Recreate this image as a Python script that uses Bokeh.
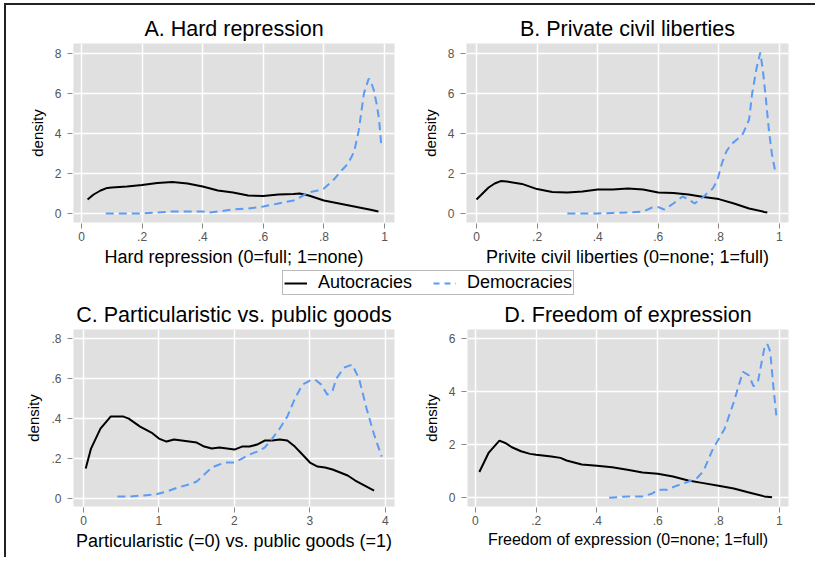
from bokeh.plotting import figure
from bokeh.models import Range1d, FixedTicker, Legend, LegendItem, Spacer
from bokeh.layouts import column, row
from bokeh.embed import file_html
from bokeh.resources import INLINE

FONT = "Liberation Sans"
BLUE = "#5b9bf4"

# ---------------- data ----------------
# Panel A: Hard repression
A_aut_x = [0.02, 0.04, 0.063, 0.085, 0.1, 0.15, 0.2, 0.25, 0.3, 0.35, 0.4, 0.45, 0.5, 0.55,
           0.6, 0.65, 0.7, 0.72, 0.75, 0.8, 0.85, 0.9, 0.95, 0.98]
A_aut_y = [0.7, 0.95, 1.15, 1.28, 1.3, 1.35, 1.42, 1.52, 1.57, 1.5, 1.35, 1.15, 1.05, 0.9,
           0.88, 0.95, 0.98, 1.0, 0.9, 0.65, 0.5, 0.35, 0.2, 0.1]
A_dem_x = [0.08, 0.15, 0.2, 0.25, 0.3, 0.35, 0.4, 0.42, 0.45, 0.5, 0.55, 0.6, 0.65, 0.7, 0.72,
           0.75, 0.78, 0.8, 0.833, 0.855, 0.88, 0.9, 0.915, 0.932, 0.948, 0.955, 0.965, 0.975,
           0.982, 0.99]
A_dem_y = [0.0, 0.0, 0.0, 0.05, 0.1, 0.1, 0.1, 0.05, 0.1, 0.2, 0.25, 0.35, 0.5, 0.65, 0.8,
           1.05, 1.15, 1.25, 1.7, 2.1, 2.5, 3.1, 4.15, 6.0, 6.75, 6.6, 6.15, 5.4, 4.7, 3.3]

# Panel B: Private civil liberties
B_aut_x = [0.0, 0.02, 0.04, 0.06, 0.08, 0.1, 0.15, 0.2, 0.25, 0.3, 0.35, 0.4, 0.45, 0.5, 0.55,
           0.6, 0.65, 0.7, 0.75, 0.8, 0.85, 0.9, 0.95, 0.96]
B_aut_y = [0.7, 1.0, 1.3, 1.5, 1.62, 1.6, 1.48, 1.22, 1.08, 1.05, 1.1, 1.2, 1.2, 1.25, 1.2,
           1.05, 1.02, 0.95, 0.82, 0.72, 0.5, 0.25, 0.08, 0.05]
B_dem_x = [0.3, 0.35, 0.4, 0.45, 0.5, 0.55, 0.58, 0.6, 0.62, 0.65, 0.68, 0.7, 0.72, 0.75, 0.78,
           0.795, 0.81, 0.825, 0.84, 0.86, 0.88, 0.9, 0.91, 0.925, 0.937, 0.945, 0.955, 0.965,
           0.975, 0.985]
B_dem_y = [0.0, 0.0, 0.0, 0.03, 0.05, 0.1, 0.3, 0.32, 0.2, 0.5, 0.85, 0.7, 0.5, 0.85, 1.25,
           1.65, 2.5, 3.1, 3.45, 3.7, 4.0, 4.7, 6.0, 7.3, 8.05, 7.2, 5.8, 4.2, 3.0, 2.2]

# Panel C: Particularistic vs. public goods
C_aut_x = [0.03, 0.1, 0.225, 0.36, 0.53, 0.6, 0.75, 0.9, 1.0, 1.1, 1.2, 1.3, 1.4, 1.5, 1.6,
           1.7, 1.8, 1.9, 2.0, 2.1, 2.2, 2.3, 2.4, 2.5, 2.6, 2.7, 2.8, 2.9, 3.0, 3.1, 3.2, 3.3,
           3.4, 3.5, 3.6, 3.7, 3.85]
C_aut_y = [0.15, 0.25, 0.35, 0.41, 0.41, 0.4, 0.36, 0.33, 0.3, 0.285, 0.295, 0.29, 0.285, 0.28,
           0.26, 0.25, 0.255, 0.25, 0.245, 0.26, 0.26, 0.27, 0.29, 0.29, 0.295, 0.29, 0.26,
           0.22, 0.18, 0.16, 0.155, 0.145, 0.13, 0.115, 0.09, 0.07, 0.04]
C_dem_x = [0.45, 0.6, 0.8, 0.95, 1.1, 1.25, 1.4, 1.5, 1.6, 1.7, 1.8, 1.9, 2.0, 2.1, 2.2, 2.3,
           2.4, 2.5, 2.6, 2.7, 2.8, 2.9, 3.0, 3.07, 3.15, 3.23, 3.3, 3.35, 3.45, 3.56, 3.65,
           3.75, 3.85, 3.95]
C_dem_y = [0.01, 0.01, 0.015, 0.02, 0.035, 0.055, 0.07, 0.085, 0.12, 0.155, 0.17, 0.18, 0.18,
           0.2, 0.22, 0.235, 0.255, 0.3, 0.35, 0.41, 0.5, 0.57, 0.59, 0.595, 0.57, 0.52, 0.54,
           0.6, 0.655, 0.67, 0.6, 0.45, 0.32, 0.21]

# Panel D: Freedom of expression
D_aut_x = [0.013, 0.044, 0.079, 0.1, 0.12, 0.15, 0.18, 0.2, 0.25, 0.28, 0.3, 0.35, 0.4, 0.45,
           0.5, 0.55, 0.6, 0.65, 0.7, 0.75, 0.8, 0.85, 0.9, 0.95, 0.976]
D_aut_y = [0.97, 1.7, 2.15, 2.05, 1.9, 1.75, 1.65, 1.62, 1.55, 1.5, 1.4, 1.25, 1.2, 1.15, 1.05,
           0.95, 0.9, 0.8, 0.65, 0.55, 0.45, 0.35, 0.2, 0.05, 0.02]
D_dem_x = [0.44, 0.5, 0.55, 0.58, 0.6, 0.63, 0.65, 0.7, 0.73, 0.75, 0.78, 0.8, 0.82, 0.85,
           0.88, 0.9, 0.915, 0.93, 0.95, 0.96, 0.97, 0.98, 0.99]
D_dem_y = [0.0, 0.05, 0.05, 0.15, 0.3, 0.3, 0.4, 0.6, 0.75, 1.0, 1.8, 2.2, 2.6, 3.6, 4.74,
           4.6, 4.19, 4.4, 5.6, 5.79, 5.5, 4.2, 3.1]

# ticks
unit_ticks = [0, 0.2, 0.4, 0.6, 0.8, 1]
unit_labels = ["0", ".2", ".4", ".6", ".8", "1"]
dens8_ticks = [0, 2, 4, 6, 8]
dens8_labels = ["0", "2", "4", "6", "8"]
dens6_ticks = [0, 2, 4, 6]
dens6_labels = ["0", "2", "4", "6"]
goods_ticks = [0, 1, 2, 3, 4]
goods_labels = ["0", "1", "2", "3", "4"]
c_dens_ticks = [0, 0.2, 0.4, 0.6, 0.8]
c_dens_labels = ["0", ".2", ".4", ".6", ".8"]

titles = ["A. Hard repression", "B. Private civil liberties",
          "C. Particularistic vs. public goods", "D. Freedom of expression"]
xlabels = ["Hard repression (0=full; 1=none)", "Privite civil liberties (0=none; 1=full)",
           "Particularistic (=0) vs. public goods (=1)", "Freedom of expression (0=none; 1=full)"]
legend_labels = ["Autocracies", "Democracies"]
dummy = [float("nan")]


def panel(title, xlabel, xr, yr, xt, xl, yt, yl, ax, ay, dx, dy, w, h, ml, mr, mt, mb,
          xlabel_size="18px"):
    p = figure(width=w, height=h, min_border_left=ml, min_border_right=mr,
               min_border_top=mt, min_border_bottom=mb, x_range=Range1d(*xr),
               y_range=Range1d(*yr), output_backend="svg", toolbar_location=None,
               title=title)
    p.background_fill_color = "#e0e0e0"
    p.border_fill_color = "white"
    p.outline_line_color = None
    p.title.align = "center"
    p.title.text_font = FONT
    p.title.text_font_size = "21.5px"
    p.title.text_font_style = "normal"
    p.title.text_color = "black"
    p.title.standoff = 5

    p.xaxis.ticker = FixedTicker(ticks=xt)
    p.xaxis.major_label_overrides = {t: s for t, s in zip(xt, xl)}
    p.yaxis.ticker = FixedTicker(ticks=yt)
    p.yaxis.major_label_overrides = {t: s for t, s in zip(yt, yl)}
    p.xgrid.ticker = FixedTicker(ticks=xt)
    p.ygrid.ticker = FixedTicker(ticks=yt)
    for g in (p.xgrid, p.ygrid):
        g.grid_line_color = "white"
        g.grid_line_width = 1.5
    for a in (p.xaxis, p.yaxis):
        a.axis_line_color = None
        a.major_tick_line_color = "#888888"
        a.major_tick_in = -1
        a.major_tick_out = 6
        a.minor_tick_line_color = None
        a.major_label_text_font = FONT
        a.major_label_text_font_size = "12px"
        a.major_label_text_color = "#555555"
        a.axis_label_text_font = FONT
        a.axis_label_text_font_style = "normal"
        a.axis_label_text_color = "black"
        a.axis_label_standoff = 3
    p.xaxis.major_label_standoff = 3
    p.yaxis.major_label_standoff = 6
    p.xaxis.axis_label = xlabel
    p.xaxis.axis_label_text_font_size = xlabel_size
    p.yaxis.axis_label = "density"
    p.yaxis.axis_label_text_font_size = "15px"
    p.yaxis.axis_label_standoff = 6
    p.yaxis.major_label_orientation = "horizontal"

    p.line(ax, ay, line_color="black", line_width=2)
    p.line(dx, dy, line_color=BLUE, line_width=2, line_dash="8 5")
    return p


pA = panel(titles[0], xlabels[0], (-0.0264, 1.033), (-0.45, 8.5), unit_ticks, unit_labels,
           dens8_ticks, dens8_labels, A_aut_x, A_aut_y, A_dem_x, A_dem_y,
           404, 265, 67, 16, 38, 48)
pB = panel(titles[1], xlabels[1], (-0.033, 1.030), (-0.45, 8.5), unit_ticks, unit_labels,
           dens8_ticks, dens8_labels, B_aut_x, B_aut_y, B_dem_x, B_dem_y,
           400, 265, 56, 22, 38, 48)
pC = panel(titles[2], xlabels[2], (-0.132, 4.12), (-0.04, 0.846), goods_ticks, goods_labels,
           c_dens_ticks, c_dens_labels, C_aut_x, C_aut_y, C_dem_x, C_dem_y,
           404, 259, 67, 16, 29, 51)
pD = panel(titles[3], xlabels[3], (-0.026, 1.03), (-0.33, 6.33), unit_ticks, unit_labels,
           dens6_ticks, dens6_labels, D_aut_x, D_aut_y, D_dem_x, D_dem_y,
           400, 259, 57, 22, 29, 51, xlabel_size="16px")

# legend strip
pl = figure(width=804, height=28, x_range=Range1d(0, 1), y_range=Range1d(0, 1),
            x_axis_type=None, y_axis_type=None, output_backend="svg",
            toolbar_location=None, min_border=0)
pl.outline_line_color = None
pl.xgrid.visible = False
pl.ygrid.visible = False
r1 = pl.line(dummy, dummy, line_color="black", line_width=2)
r2 = pl.line(dummy, dummy, line_color=BLUE, line_width=2, line_dash="6 5")
leg = Legend(items=[LegendItem(label=legend_labels[0], renderers=[r1]),
                    LegendItem(label=legend_labels[1], renderers=[r2])],
             orientation="horizontal", location=(276, 3))
leg.label_text_font = FONT
leg.label_text_font_size = "18px"
leg.label_text_color = "black"
leg.padding = 1
leg.margin = 0
leg.spacing = 21
leg.glyph_width = 23
leg.glyph_height = 14
leg.label_height = 14
leg.label_standoff = 11
leg.border_line_color = "#777777"
leg.border_line_width = 1
leg.background_fill_alpha = 0
pl.add_layout(leg, "center")

BAR = {"background-color": "#222222"}
content = column(row(pA, pB), pl, row(pC, pD))
layout = column(
    Spacer(width=815, height=3),
    row(Spacer(width=4, height=2), Spacer(width=811, height=2, styles=BAR)),
    row(Spacer(width=4, height=552), Spacer(width=2, height=552, styles=BAR), content),
)

open("out.html", "w").write(file_html(layout, INLINE))
